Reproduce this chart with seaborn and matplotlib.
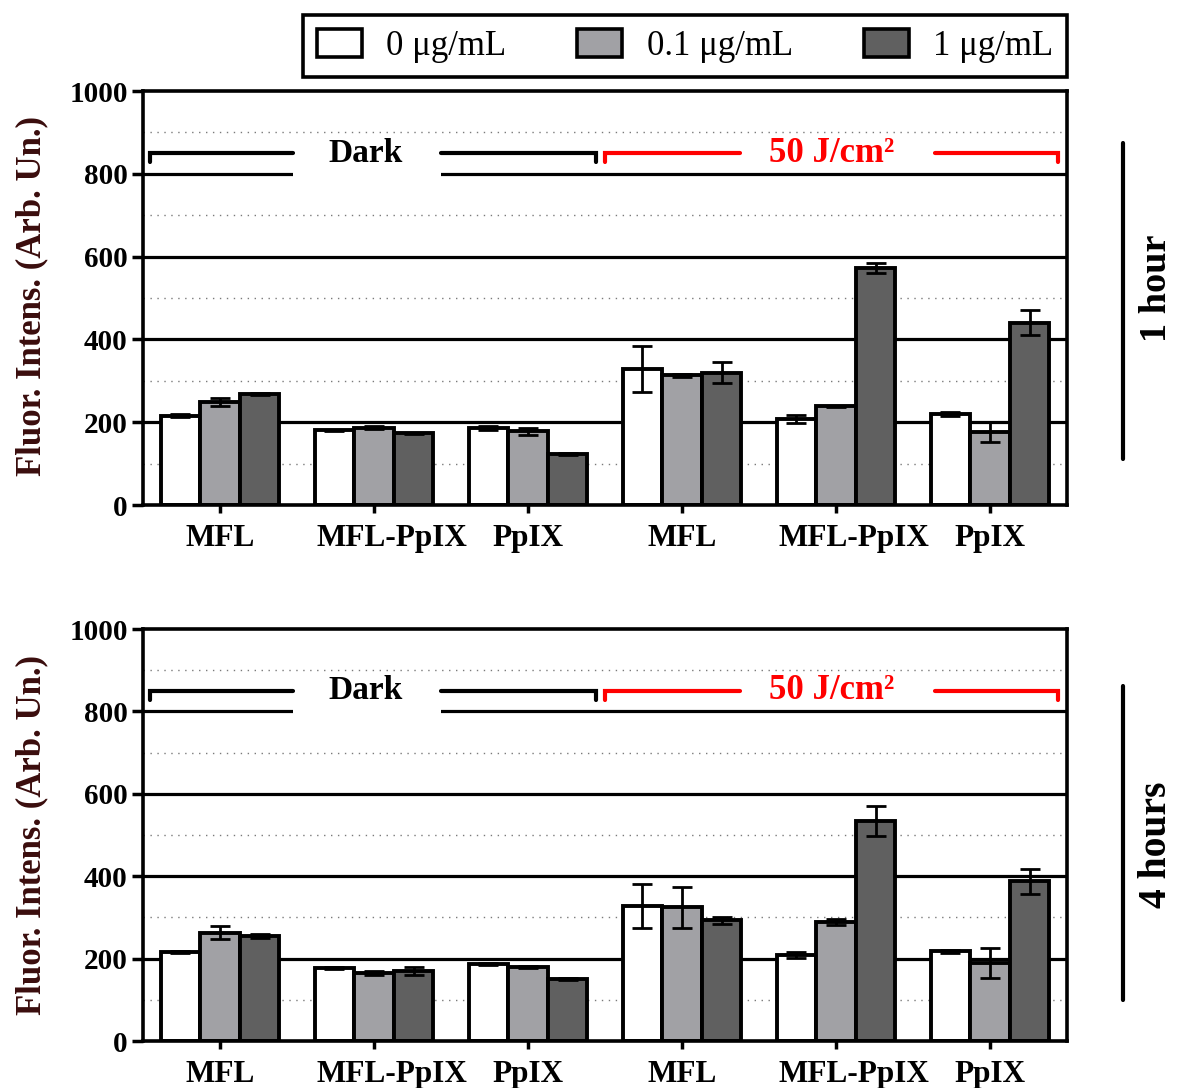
import numpy as np
import pandas as pd
import matplotlib
matplotlib.use("Agg")
import matplotlib.pyplot as plt
import matplotlib.transforms as mtransforms
import seaborn as sns
from matplotlib.lines import Line2D
from matplotlib.patches import Patch, Rectangle

# ---------------- data ----------------
categories = ["MFL", "MFL-PpIX", "PpIX", "MFL", "MFL-PpIX", "PpIX"]
conditions = ["Dark", "Dark", "Dark", "50 J/cm²", "50 J/cm²", "50 J/cm²"]
doses = ["0 μg/mL", "0.1 μg/mL", "1 μg/mL"]

# 1 hour
h1_d0 = [216, 180, 186, 328, 207, 219]
h1_d01 = [248, 187, 178, 313, 238, 176]
h1_d1 = [268, 173, 123, 320, 572, 440]
h1_e0 = [3, 2, 4, 55, 10, 5]
h1_e01 = [10, 3, 9, 3, 2, 24]
h1_e1 = [3, 2, 3, 25, 12, 30]

# 4 hours
h4_d0 = [216, 177, 187, 327, 209, 218]
h4_d01 = [263, 165, 180, 325, 288, 190]
h4_d1 = [254, 170, 151, 293, 534, 388]
h4_e0 = [2, 2, 3, 53, 7, 4]
h4_e01 = [15, 5, 2, 50, 7, 36]
h4_e1 = [5, 10, 2, 8, 36, 30]

panel_labels = ["1 hour", "4 hours"]
ylabel = "Fluor. Intens. (Arb. Un.)"

colors = ["#ffffff", "#a1a1a5", "#606060"]

# ---------------- style ----------------
sns.set_theme(style="white")
plt.rcParams["font.family"] = ["Liberation Serif", "DejaVu Serif"]
plt.rcParams["text.color"] = "black"
plt.rcParams["xtick.color"] = "black"
plt.rcParams["ytick.color"] = "black"
plt.rcParams["axes.labelcolor"] = "black"

fig = plt.figure(figsize=(11.77, 10.88), dpi=100)

ax_specs = [
    [143 / 1177, 1 - 505 / 1088, 924 / 1177, 414 / 1088],
    [143 / 1177, 1 - 1041 / 1088, 924 / 1177, 412 / 1088],
]

panels = [
    ([h1_d0, h1_d01, h1_d1], [h1_e0, h1_e01, h1_e1]),
    ([h4_d0, h4_d01, h4_d1], [h4_e0, h4_e01, h4_e1]),
]

keys = [f"{c}|{k}|{i}" for i, (c, k) in enumerate(zip(conditions, categories))]

for pi, (spec, (vals, errs)) in enumerate(zip(ax_specs, panels)):
    ax = fig.add_axes(spec)
    rows = []
    for di, dose in enumerate(doses):
        for ki, key in enumerate(keys):
            rows.append({"key": key, "dose": dose, "value": vals[di][ki], "err": errs[di][ki]})
    df = pd.DataFrame(rows)
    sns.barplot(data=df, x="key", y="value", hue="dose", order=keys, hue_order=doses,
                palette=colors, width=0.77, edgecolor="black", linewidth=2.8,
                errorbar=None, legend=False, ax=ax, zorder=3, saturation=1)
    # error bars
    bar_containers = list(ax.containers)
    for di, cont in enumerate(bar_containers):
        xs = [p.get_x() + p.get_width() / 2 for p in cont.patches]
        ys = [p.get_height() for p in cont.patches]
        ax.errorbar(xs, ys, yerr=errs[di], fmt="none", ecolor="black",
                    elinewidth=2.0, capsize=7.5, capthick=2.0, zorder=4)

    ax.set_xlim(-0.5, 5.5)
    ax.set_ylim(0, 1000)
    ax.set_yticks([0, 200, 400, 600, 800, 1000])
    ax.set_xticks(range(6))
    ax.set_xticklabels(categories, fontsize=22.5, fontweight="bold", color="black")
    ax.set_yticklabels([str(v) for v in [0, 200, 400, 600, 800, 1000]],
                       fontsize=21, fontweight="bold", color="black")
    ax.set_xlabel("")
    ax.set_ylabel("")
    ax.tick_params(axis="y", direction="out", length=8, width=2.5, pad=3, left=True)
    ax.tick_params(axis="x", direction="out", length=6, width=2.5, pad=8, bottom=True)
    # the "MFL-PpIX" labels sit slightly right of their ticks in the reference
    for lab in ax.get_xticklabels():
        if lab.get_text() == "MFL-PpIX":
            lab.set_transform(lab.get_transform() +
                              mtransforms.ScaledTranslation(18 / 100, 0, fig.dpi_scale_trans))
    ax.set_axisbelow(True)
    for y in [200, 400, 600, 800]:
        ax.axhline(y, color="black", lw=2.3, zorder=1)
    for y in [100, 300, 500, 700, 900]:
        ax.axhline(y, color="#7a7a7a", lw=1.0, ls=(0, (1, 4)), zorder=1)
    for s in ax.spines.values():
        s.set_color("black")
        s.set_linewidth(2.6)
        s.set_zorder(5)

    # brackets
    y_top, y_bot = 850, 828
    ax.add_patch(Rectangle((0.476, 790), 0.958, 95, facecolor="white", edgecolor="none", zorder=2))
    ax.plot([-0.456, -0.456, 0.476], [y_bot, y_top, y_top], color="black", lw=3, zorder=6,
            solid_joinstyle="miter")
    ax.plot([1.434, 2.44, 2.44], [y_top, y_top, y_bot], color="black", lw=3, zorder=6,
            solid_joinstyle="miter")
    ax.text(0.945, y_top, "Dark", ha="center", va="center", fontsize=24,
            fontweight="bold", color="black", zorder=7)
    ax.plot([2.50, 2.50, 3.377], [y_bot, y_top, y_top], color="#ff0000", lw=3, zorder=6,
            solid_joinstyle="miter")
    ax.plot([4.641, 5.44, 5.44], [y_top, y_top, y_bot], color="#ff0000", lw=3, zorder=6,
            solid_joinstyle="miter")
    ax.text(3.97, y_top, "50 J/cm²", ha="center", va="center", fontsize=25,
            fontweight="bold", color="#ff0000", zorder=7)

# y labels
fig.text(32 / 1177, 1 - 296 / 1088, ylabel, rotation=90, ha="center", va="center",
         fontsize=25, fontweight="bold", color="#3a0d0d")
fig.text(32 / 1177, 1 - 835 / 1088, ylabel, rotation=90, ha="center", va="center",
         fontsize=25, fontweight="bold", color="#3a0d0d")

# right side labels
fig.add_artist(Line2D([1123 / 1177, 1123 / 1177], [1 - 143 / 1088, 1 - 459 / 1088],
                      color="black", lw=3, transform=fig.transFigure))
fig.text(1157 / 1177, 1 - 288 / 1088, panel_labels[0], rotation=90, ha="center", va="center",
         fontsize=27.5, fontweight="bold")
fig.add_artist(Line2D([1123 / 1177, 1123 / 1177], [1 - 686 / 1088, 1 - 1000 / 1088],
                      color="black", lw=3, transform=fig.transFigure))
fig.text(1157 / 1177, 1 - 845 / 1088, panel_labels[1], rotation=90, ha="center", va="center",
         fontsize=28.5, fontweight="bold")

# legend
handles = [Patch(facecolor=c, edgecolor="black", linewidth=2.6) for c in colors]
leg = fig.legend(handles, doses, loc="center",
                 bbox_to_anchor=(303 / 1177, 1 - 77 / 1088, 764 / 1177, 62 / 1088),
                 mode="expand", ncol=3, frameon=True, fancybox=False, framealpha=1,
                 prop={"size": 25},
                 handlelength=1.3, handleheight=0.85, handletextpad=0.7,
                 columnspacing=1.6, borderpad=0.4, borderaxespad=0)
leg.get_frame().set_edgecolor("black")
leg.get_frame().set_linewidth(2.6)

fig.savefig("out.png", dpi=100)
